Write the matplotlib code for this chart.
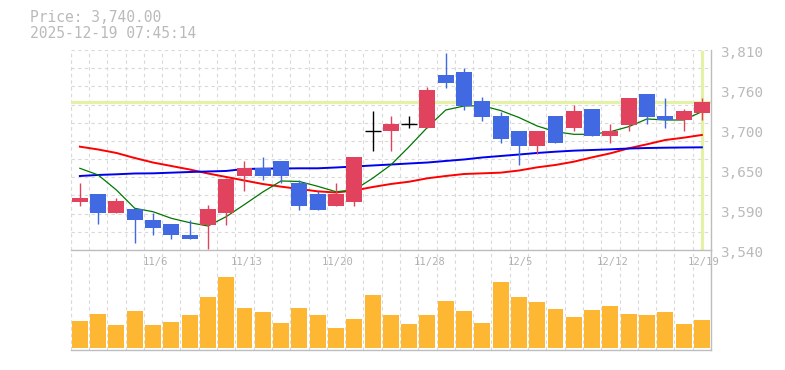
import matplotlib
matplotlib.use('Agg')
import matplotlib.pyplot as plt
import matplotlib.transforms as mtransforms
import numpy as np

# daily data, 35 sessions up to 12/19
dates = ['10/30', '10/31', '11/4', '11/5', '11/6', '11/7', '11/10', '11/11', '11/12',
         '11/13', '11/14', '11/17', '11/18', '11/19', '11/20', '11/21', '11/25',
         '11/26', '11/27', '11/28', '12/1', '12/2', '12/3', '12/4', '12/5', '12/8',
         '12/9', '12/10', '12/11', '12/12', '12/15', '12/16', '12/17', '12/18', '12/19']
opens = [3605, 3615, 3590, 3595, 3580, 3575, 3560, 3574, 3590, 3640, 3651, 3660,
         3630, 3615, 3600, 3605, 3700, 3700, 3710, 3705, 3776, 3780, 3741, 3721,
         3701, 3680, 3721, 3705, 3730, 3694, 3709, 3751, 3721, 3715, 3725]
highs = [3631, 3615, 3610, 3595, 3590, 3575, 3580, 3601, 3637, 3660, 3665, 3660,
         3635, 3620, 3631, 3665, 3727, 3721, 3721, 3760, 3806, 3786, 3746, 3726,
         3701, 3701, 3721, 3736, 3730, 3710, 3745, 3751, 3745, 3730, 3745]
lows = [3600, 3575, 3590, 3550, 3560, 3555, 3555, 3541, 3574, 3620, 3635, 3630,
        3594, 3594, 3600, 3600, 3674, 3674, 3705, 3705, 3759, 3729, 3714, 3685,
        3655, 3670, 3685, 3700, 3694, 3685, 3700, 3710, 3705, 3700, 3715]
closes = [3610, 3590, 3606, 3580, 3570, 3560, 3555, 3595, 3636, 3651, 3640, 3640,
          3600, 3594, 3615, 3665, 3700, 3710, 3710, 3756, 3765, 3735, 3720, 3690,
          3680, 3701, 3685, 3727, 3694, 3701, 3745, 3720, 3715, 3727, 3740]
volumes = [27000, 34000, 23000, 37000, 23000, 26000, 33000, 51000, 71000, 40000,
           36000, 25000, 40000, 33000, 20000, 29000, 53000, 33000, 24000, 33000,
           47000, 37000, 25000, 66000, 51000, 46000, 39000, 31000, 38000, 42000,
           34000, 33000, 36000, 24000, 28000]
ma_short = [3650.3, 3641.3, 3621, 3596.3, 3591.7, 3582.8, 3576.9, 3572.4, 3585,
            3601.4, 3618.3, 3633.2, 3632.5, 3626, 3618.7, 3621, 3636.8, 3654.8,
            3679.5, 3705.6, 3729, 3734.4, 3734.8, 3728.3, 3718.9, 3707.4, 3699.7,
            3696.2, 3696.2, 3699.7, 3706.5, 3716.9, 3715.5, 3715.5, 3726.7]
ma_mid = [3679.5, 3675.7, 3671, 3664.2, 3658.1, 3653.4, 3648.7, 3643.3, 3638.6,
          3633.8, 3629.1, 3625.5, 3622.4, 3619.2, 3617.6, 3620.3, 3625, 3629.1,
          3632.2, 3636.8, 3639.9, 3642.6, 3643.5, 3644.4, 3647.3, 3651.6, 3654.8,
          3659.2, 3665.1, 3670.5, 3677.3, 3682.7, 3688.5, 3691.6, 3695.3]
ma_long = [3639.9, 3641.3, 3642.2, 3643.3, 3643.5, 3644.4, 3645.3, 3646, 3646.7,
           3649.4, 3649.8, 3650, 3650.3, 3650.3, 3651.4, 3652.7, 3654.1, 3655.4,
           3656.8, 3658.1, 3660.2, 3662.2, 3664.9, 3666.9, 3668.9, 3671, 3672.7,
           3674.1, 3675, 3675.9, 3677, 3677.7, 3678.1, 3678.4, 3678.6]
date_labels = ['11/6', '11/13', '11/20', '11/28', '12/5', '12/12', '12/19']
price_now = 3740.00
stamp = '2025-12-19 07:45:14'
ymin, ymax = 3540, 3810

UP = '#e1435f'
DOWN = '#4169e1'
VOL = '#fdb733'
HL = '#e3f2a6'
GRID = '#d9d9d9'
EDGE = '#bdbdbd'
TXT = '#bababa'
FONT = 'DejaVu Sans Mono'

x = np.arange(len(dates))
o = np.array(opens, float)
c = np.array(closes, float)

fig = plt.figure(figsize=(7.85, 3.70), dpi=100)
W, H = 785, 370
axv = fig.add_axes([70.7 / W, 1 - 350 / H, 640.3 / W, 100 / H])
ax = fig.add_axes([70.7 / W, 1 - 250 / H, 640.3 / W, 200 / H])
axv.patch.set_alpha(0)
ax.patch.set_alpha(0)

for a in (ax, axv):
    a.set_xlim(-0.5, len(dates) - 0.5)
    a.set_xticks(np.arange(-0.5, len(dates), 1))
    a.tick_params(length=0, labelleft=False, labelbottom=False)
    a.grid(True, axis='x', color=GRID, ls=(0, (3, 3)), lw=0.8, zorder=0)
    for s in ('left', 'top'):
        a.spines[s].set_visible(False)
    for s in ('right', 'bottom'):
        a.spines[s].set_color(EDGE)
        a.spines[s].set_linewidth(1.0)
    a.set_axisbelow(True)

# price panel
ax.set_ylim(ymin, ymax)
ax.set_yticks(np.linspace(ymin, ymax, 12))
ax.tick_params(labelright=False)
ax.grid(True, axis='y', color=GRID, ls=(0, (3, 3)), lw=0.8, zorder=0)
ax.axvline(-0.5, color=GRID, ls=(0, (3, 3)), lw=0.8, zorder=0)

ax.axhline(price_now, color=HL, lw=2.3, zorder=1)
ax.axvline(x[-1], color=HL, lw=2.3, zorder=1, ymin=0.01, ymax=0.99)

ax.plot(x, ma_mid, color='#ff0000', lw=1.4, zorder=2)
ax.plot(x, ma_long, color='#0000ee', lw=1.4, zorder=2)
ax.plot(x, ma_short, color='#007700', lw=0.9, zorder=2)

cols = []
for oo, cc in zip(o, c):
    if cc > oo:
        cols.append(UP)
    elif cc < oo:
        cols.append(DOWN)
    else:
        cols.append('black')
ax.vlines(x, lows, highs, colors=cols, lw=1.0, zorder=3)
body = np.abs(c - o)
ax.bar(x, body, bottom=np.minimum(o, c), width=0.87, color=cols, lw=0, zorder=4)
doji = body == 0
ax.hlines(c[doji], x[doji] - 0.435, x[doji] + 0.435, colors='black', lw=1.0, zorder=4)

# right side price labels, slightly below their level
lab_tr = mtransforms.offset_copy(ax.get_yaxis_transform(), fig=fig, x=9 / 100 * 72, y=-3 / 100 * 72, units='points')
for v in np.linspace(ymin, ymax, 6):
    ax.text(1, v, f'{round(v, -1):,.0f}', transform=lab_tr, ha='left', va='center',
            fontsize=10.4, family=FONT, color=TXT)

# volume panel
axv.set_ylim(-1700, 98300)
axv.set_yticks([])
axv.axvline(-0.5, color=GRID, ls=(0, (3, 3)), lw=0.8, zorder=0)
axv.bar(x, volumes, width=0.87, color=VOL, lw=0, zorder=2)

dl_tr = mtransforms.offset_copy(axv.get_xaxis_transform(), fig=fig, x=2 / 100 * 72, y=-12 / 100 * 72, units='points')
for i, d in enumerate(dates):
    if d in date_labels:
        axv.text(i, 1, d, transform=dl_tr, ha='center', va='center', fontsize=7.6,
                 family=FONT, color='#b0b0b0', zorder=5)

fig.text(30 / W, 1 - 18 / H, f'Price: {price_now:,.2f}', ha='left', va='center',
         fontsize=10.5, family=FONT, color=TXT)
fig.text(30 / W, 1 - 33 / H, stamp, ha='left', va='center',
         fontsize=10.5, family=FONT, color=TXT)

fig.savefig('out.png', dpi=100)
